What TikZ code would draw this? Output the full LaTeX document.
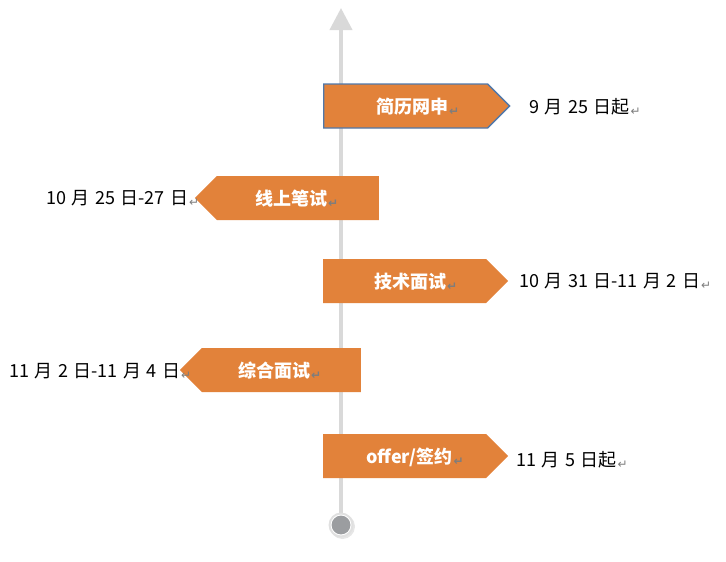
\documentclass[tikz,border=0pt]{standalone}
\usepackage{fontspec}
\setmainfont{Noto Sans CJK SC}
\newfontfamily\datefamily{Noto Sans CJK SC}[WordSpace=1.35]
\newfontfamily\markfont{DejaVu Sans}
\usetikzlibrary{shapes.symbols,arrows.meta,shadows}
\definecolor{boxorange}{RGB}{226,130,58}
\definecolor{borderblue}{RGB}{80,120,170}
\definecolor{axisgrey}{RGB}{217,217,217}
\definecolor{ringgrey}{RGB}{224,224,224}
\definecolor{dotgrey}{RGB}{155,157,160}
\definecolor{markgrey}{RGB}{125,125,125}
\newcommand\pmark{{\markfont\color{markgrey}\fontsize{12}{12}\selectfont\hspace{1pt}\raisebox{-2pt}{↵}}}
\begin{document}
\begin{tikzpicture}[x=1pt,y=-1pt,
  tagright/.style={signal, signal to=east, signal pointer angle=90, fill=boxorange,
    minimum height=44pt, inner sep=0pt, anchor=west},
  tagleft/.style={signal, signal to=west, signal pointer angle=90, fill=boxorange,
    minimum height=44pt, inner sep=0pt, anchor=east},
  tagtext/.style={text=white, font=\bfseries\fontsize{18}{18}\selectfont, inner sep=0pt, anchor=west},
  datetext/.style={text=black, font={\datefamily\fontsize{18}{18}\selectfont}, inner sep=0pt, anchor=west},
  axis/.style={draw=axisgrey, line width=4pt, -{Triangle[width=22pt,length=22pt]}},
  endnode/.style={circle, minimum size=25pt, inner sep=0pt, fill=ringgrey,
    drop shadow={opacity=0.2, shadow xshift=1.5pt, shadow yshift=-1.5pt},
    path picture={\fill[white] (path picture bounding box.center) circle (10.4pt);
                  \fill[dotgrey] (path picture bounding box.center) circle (9.4pt);}}
]
\useasboundingbox (0,0) rectangle (726,562);

\coordinate (axisbottom) at (341,525);
\coordinate (axistop) at (341,8);
\draw[axis] (axisbottom) -- (axistop);

% step boxes
\node[tagright, minimum width=186pt, draw=borderblue, line width=1.3pt] (b1) at (323,106) {};
\node[tagleft, minimum width=184pt] (b2) at (379,198) {};
\node[tagright, minimum width=185pt] (b3) at (323,281) {};
\node[tagleft, minimum width=181pt] (b4) at (361,370) {};
\node[tagright, minimum width=185pt] (b5) at (323,456) {};

% labels
\node[tagtext] (t1) at (376,107) {简历网申\pmark};
\node[tagtext] (t2) at (255,199) {线上笔试\pmark};
\node[tagtext] (t3) at (374,282) {技术面试\pmark};
\node[tagtext] (t4) at (238,371) {综合面试\pmark};
\node[tagtext] (t5) at (366,457) {offer/签约\pmark};

% dates
\node[datetext] (d1) at (529,107) {9 月 25 日起\pmark};
\node[datetext] (d2) at (46,198) {10 月 25 日-27 日\pmark};
\node[datetext] (d3) at (519,281) {10 月 31 日-11 月 2 日\pmark};
\node[datetext] (d4) at (9,371) {11 月 2 日-11 月 4 日\pmark};
\node[datetext] (d5) at (516,460) {11 月 5 日起\pmark};

\node[endnode] (endc) at (axisbottom) {};
\end{tikzpicture}
\end{document}
